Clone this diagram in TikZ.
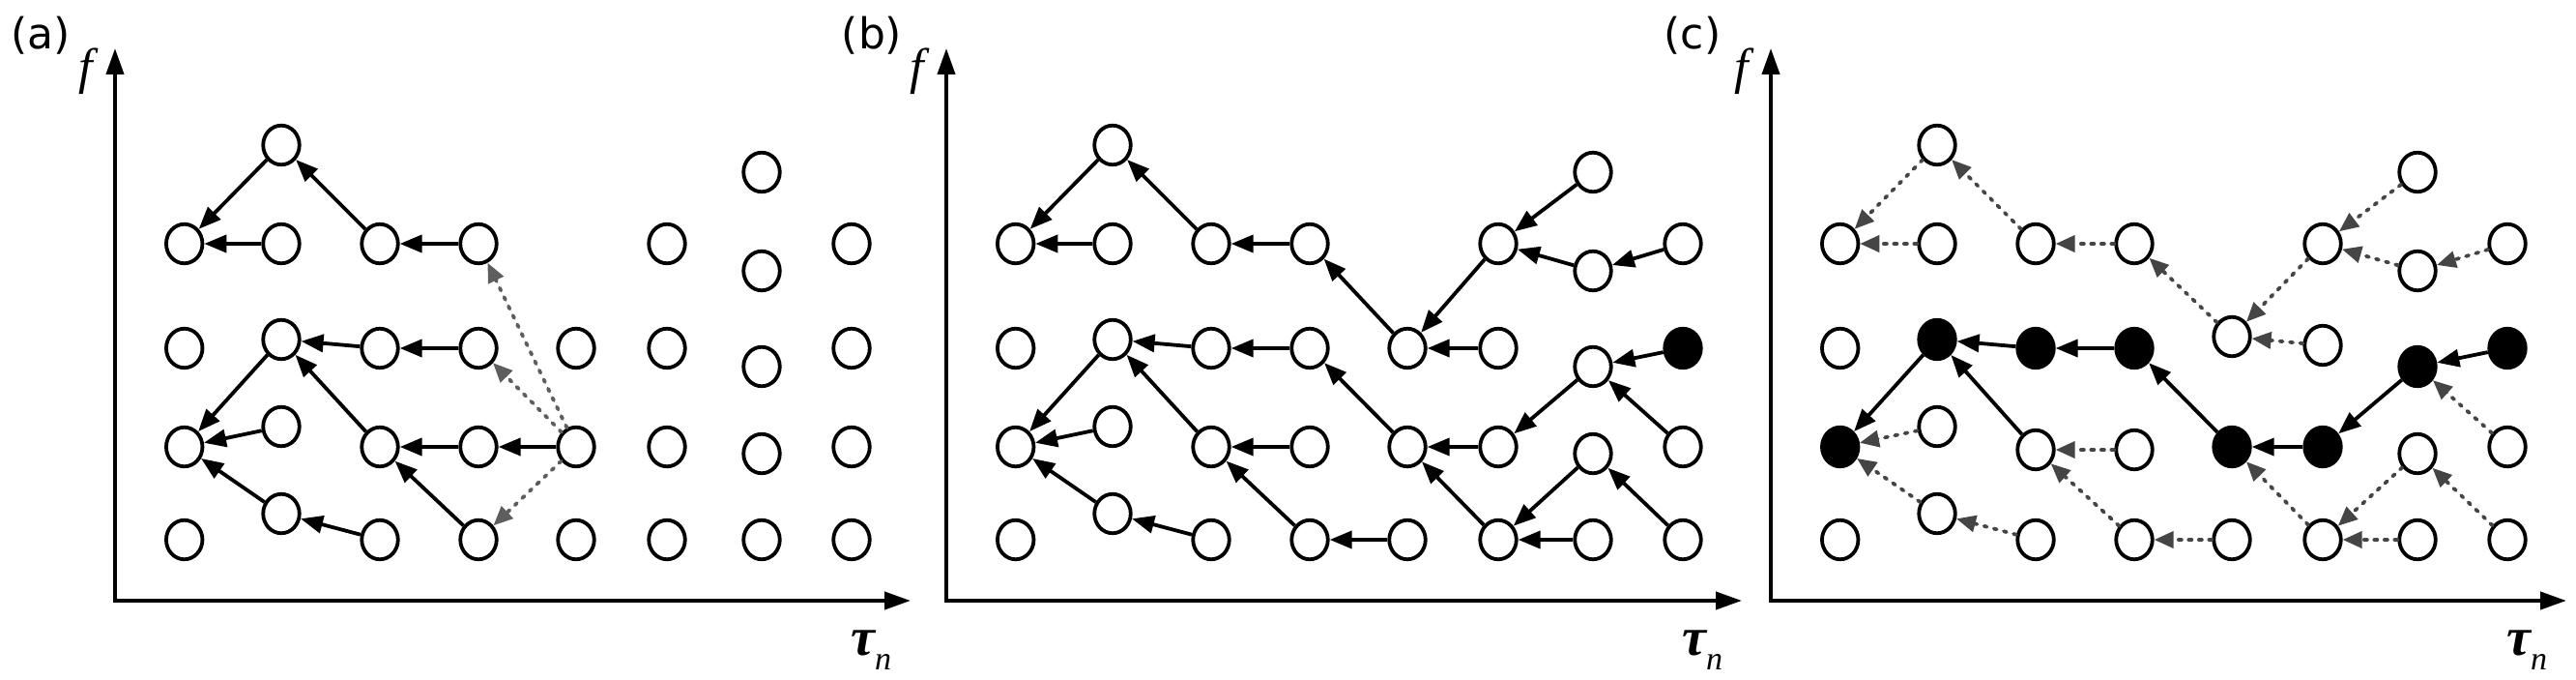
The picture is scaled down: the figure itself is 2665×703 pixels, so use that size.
\documentclass[tikz,border=0pt]{standalone}
\usepackage{fontspec}
\newfontfamily\lblfont{DejaVu Sans}
\newfontfamily\serfont{Liberation Serif}
\usetikzlibrary{arrows.meta,shapes.geometric}
\definecolor{dga}{HTML}{5E5E5E}
\definecolor{dgc}{HTML}{454545}
\tikzset{
  nd/.style={ellipse, draw=black, line width=3.8pt, minimum width=37.5pt, minimum height=40.5pt, inner sep=0pt, fill=white},
  fd/.style={nd, fill=black},
  sol/.style={draw=black, line width=3.8pt, -{Triangle[length=23pt,width=18pt]}},
  dsh/.style={draw=#1, line width=3.8pt, line cap=round, dash pattern=on 3pt off 7.5pt, -{Triangle[length=20pt,width=17pt]}},
  dsh/.default=dga,
  ax/.style={draw=black, line width=4pt, {Triangle[length=27pt,width=18pt]}-{Triangle[length=27pt,width=18pt]}},
  plabel/.style={font=\lblfont\fontsize{44}{48}\selectfont, inner sep=0pt},
  flabel/.style={font=\serfont\itshape\fontsize{52}{56}\selectfont, inner sep=0pt},
  tlabel/.style={font=\serfont\itshape\bfseries\fontsize{56}{60}\selectfont, inner sep=0pt, anchor=base west},
}
\newcommand\mysub[1]{\raisebox{-15pt}{\mdseries\fontsize{34}{36}\selectfont #1}}
\begin{document}
\begin{tikzpicture}[x=1pt,y=-1pt]
\useasboundingbox (0,0) rectangle (2665,703);

% ---------------- panel (a) ----------------
\begin{scope}
  \coordinate (ao) at (119,621);
  \coordinate (ay) at (119,50);
  \coordinate (ax) at (942,621);
  \draw[ax] (ay) -- (ao) -- (ax);
  \node[plabel] (la) at (42,37) {(a)};
  \node[flabel] (fa) at (89,74) {f};
  \node[tlabel] (ta) at (880,677) {τ\mysub{n}};
  \foreach \nm/\x/\y/\st in {
    11/190.7/252/nd, 12/190.7/360/nd, 13/190.7/462/nd, 14/190.7/558/nd,
    2t/291/150/nd, 21/291/252/nd, 22/291/351/nd, 23/291/441/nd, 24/291/531/nd,
    31/393/252/nd, 32/393/360/nd, 33/393/462/nd, 34/393/558/nd,
    41/495/252/nd, 42/495/360/nd, 43/495/462/nd, 44/495/558/nd,
    52/596/360/nd, 53/596/462/nd, 54/596/558/nd,
    61/690/252/nd, 62/690/360/nd, 63/690/462/nd, 64/690/558/nd,
    7t/788/178/nd, 71/788/280/nd, 72/788/379/nd, 73/788/469/nd, 74/788/558/nd,
    81/881/252/nd, 82/881/360/nd, 83/881/462/nd, 84/881/558/nd}
    {\node[\st] (a\nm) at (\x,\y) {};}
  \foreach \s/\t in {2t/11, 21/11, 31/2t, 41/31, 22/13, 32/22, 42/32, 33/22,
                     23/13, 24/13, 43/33, 53/43, 34/24, 44/33}
    {\draw[sol] (a\s) -- (a\t);}
  \foreach \s/\t in {53/41, 53/42, 53/44}
    {\draw[dsh=dga] (a\s) -- (a\t);}
\end{scope}

% ---------------- panel (b) ----------------
\begin{scope}[xshift=860pt]
  \coordinate (bo) at (119,621);
  \coordinate (by) at (119,50);
  \coordinate (bx) at (942,621);
  \draw[ax] (by) -- (bo) -- (bx);
  \node[plabel] (lb) at (42,37) {(b)};
  \node[flabel] (fb) at (89,74) {f};
  \node[tlabel] (tb) at (880,677) {τ\mysub{n}};
  \foreach \nm/\x/\y/\st in {
    11/190.7/252/nd, 12/190.7/360/nd, 13/190.7/462/nd, 14/190.7/558/nd,
    2t/291/150/nd, 21/291/252/nd, 22/291/351/nd, 23/291/441/nd, 24/291/531/nd,
    31/393/252/nd, 32/393/360/nd, 33/393/462/nd, 34/393/558/nd,
    41/495/252/nd, 42/495/360/nd, 43/495/462/nd, 44/495/558/nd,
    52/596/360/nd, 53/596/462/nd, 54/596/558/nd,
    61/690/252/nd, 62/690/360/nd, 63/690/462/nd, 64/690/558/nd,
    7t/788/178/nd, 71/788/280/nd, 72/788/379/nd, 73/788/469/nd, 74/788/558/nd,
    81/881/252/nd, 82/881/360/fd, 83/881/462/nd, 84/881/558/nd}
    {\node[\st] (b\nm) at (\x,\y) {};}
  \foreach \s/\t in {2t/11, 21/11, 31/2t, 41/31, 52/41, 61/52, 62/52, 7t/61, 71/61, 81/71,
                     22/13, 32/22, 42/32, 33/22, 23/13, 24/13, 43/33, 34/24, 44/33,
                     53/42, 54/44, 63/53, 64/53, 72/63, 82/72, 83/72, 73/64, 74/64, 84/73}
    {\draw[sol] (b\s) -- (b\t);}
\end{scope}

% ---------------- panel (c) ----------------
\begin{scope}[xshift=1713pt]
  \coordinate (co) at (119,621);
  \coordinate (cy) at (119,50);
  \coordinate (cx) at (942,621);
  \draw[ax] (cy) -- (co) -- (cx);
  \node[plabel] (lc) at (38,37) {(c)};
  \node[flabel] (fc) at (89,74) {f};
  \node[tlabel] (tc) at (880,677) {τ\mysub{n}};
  \foreach \nm/\x/\y/\st in {
    11/190.7/252/nd, 12/190.7/360/nd, 13/190.7/462/fd, 14/190.7/558/nd,
    2t/291/150/nd, 21/291/252/nd, 22/291/351/fd, 23/291/441/nd, 24/291/531/nd,
    31/393/252/nd, 32/393/360/fd, 33/393/465/nd, 34/393/558/nd,
    41/495/252/nd, 42/495/360/fd, 43/495/465/nd, 44/495/558/nd,
    52/596/348/nd, 53/596/462/fd, 54/596/558/nd,
    61/690/252/nd, 62/690/357/nd, 63/690/462/fd, 64/690/558/nd,
    7t/788/178/nd, 71/788/280/nd, 72/788/379/fd, 73/788/469/nd, 74/788/558/nd,
    81/881/252/nd, 82/881/360/fd, 83/881/462/nd, 84/881/558/nd}
    {\node[\st] (c\nm) at (\x,\y) {};}
  \foreach \s/\t in {82/72, 72/63, 63/53, 53/42, 42/32, 32/22, 33/22, 22/13}
    {\draw[sol] (c\s) -- (c\t);}
  \foreach \s/\t in {2t/11, 21/11, 31/2t, 41/31, 52/41, 61/52, 62/52, 7t/61, 71/61, 81/71,
                     23/13, 24/13, 43/33, 34/24, 44/33, 54/44, 64/53, 73/64, 74/64, 84/73, 83/72}
    {\draw[dsh=dgc] (c\s) -- (c\t);}
\end{scope}
\end{tikzpicture}
\end{document}
